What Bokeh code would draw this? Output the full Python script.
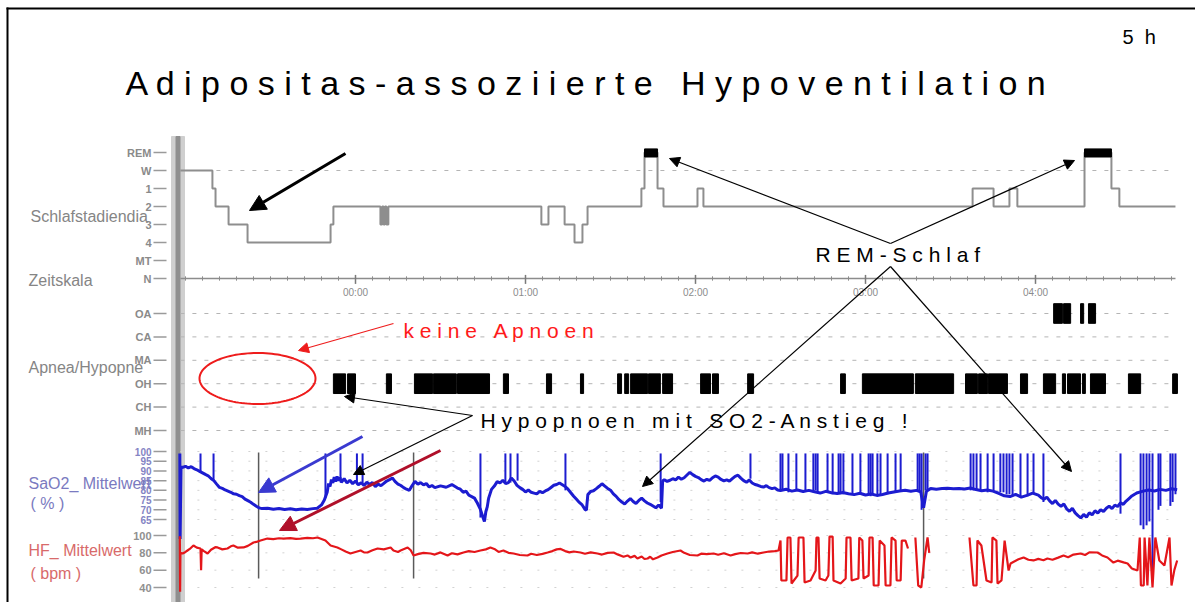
import numpy as np
from bokeh.plotting import figure
from bokeh.models import Range1d, Arrow, NormalHead
from bokeh.core.properties import value
from bokeh.embed import file_html
from bokeh.resources import INLINE

NaN = float("nan")

# ---------------- data (time in minutes relative to 00:00) ----------------
hyp_levels = ["REM", "W", "1", "2", "3", "4", "MT", "N"]
hyp_t = [-61.8, -50.5, -49.4, -44.8, -38.1, -8.8, -7.8, 8.8, 9.4, 9.9, 10.4, 10.9, 11.6,
         65.6, 68.1, 73.8, 77.3, 80.1, 81.9, 100.9, 102.0, 106.6, 108.7, 120.7, 122.8,
         217.8, 225.2, 230.8, 233.6, 257.3, 266.8, 269.6, 289.4]
hyp_stage = ["W", "1", "2", "3", "4", "3", "2", "3", "2", "3", "2", "3", "2",
             "3", "2", "3", "4", "3", "2", "1", "REM", "1", "2", "1", "2",
             "1", "2", "1", "2", "REM", "1", "2", "2"]

apnea_levels = ["OA", "CA", "MA", "OH", "CH", "MH"]
apnea_type = ["OH"] * 31 + ["OA"] * 4
apnea_start = [-7.8, -2.8, 10.9, 20.8, 27.5, 36.0, 52.2, 67.4, 79.4, 92.5, 95.0, 97.1, 103.4,
               108.4, 121.8, 126.0, 138.4, 171.2, 178.9, 197.6, 215.3, 219.9, 223.4, 234.7,
               242.8, 249.5, 251.3, 256.6, 259.4, 272.8, 288.4,
               246.4, 249.9, 255.9, 258.7]
apnea_end = [-3.5, 0.0, 12.7, 27.2, 35.6, 47.3, 54.0, 69.2, 80.5, 93.9, 96.4, 103.1, 107.6,
             111.9, 125.3, 128.1, 140.5, 172.9, 196.9, 211.1, 219.5, 223.1, 230.1, 237.2,
             247.1, 250.6, 255.9, 257.6, 264.7, 277.1, 290.1,
             249.5, 252.4, 257.0, 261.2]

sao2_ticks = [100, 95, 90, 85, 80, 75, 70, 65]
sao2_t = [-62.0, -61.9, -61.6, -61.0, -60.0, -59.0, -58.0, -57.0, -56.0, -55.0, -54.0, -53.0, -52.0,
          -51.0, -50.0, -49.0, -48.0, -47.0, -46.0, -45.0, -44.0, -43.0, -42.0, -41.0, -40.0,
          -39.0, -38.0, -37.0, -36.0, -35.0, -34.0, -33.0, -31.0, -29.0, -27.0, -25.0, -23.0,
          -21.0, -19.0, -17.0, -15.0, -13.5, -12.0, -11.0, -10.0, -9.5, -9.0, -8.5, -8.0, -7.5,
          -7.0, -6.5, -6.0, -5.5, -5.0, -4.0, -3.0, -2.0, -1.0, 0.0, 1.0, 2.0, 3.0, 4.0, 5.0,
          6.0, 7.0, 8.0, 9.0, 10.0, 11.0, 12.0, 13.0, 14.0, 15.0, 16.0, 17.0, 18.0, 19.0, 20.0,
          21.0, 22.0, 23.0, 24.0, 25.0, 26.0, 27.0, 28.0, 30.0, 32.0, 34.0, 36.0, 37.0, 38.0,
          39.0, 40.0, 41.0, 42.0, 43.0, 44.0, 45.0, 45.5, 46.0, 46.5, 47.0, 48.0, 49.0, 50.0,
          51.0, 52.0, 53.0, 54.0, 55.0, 56.0, 57.0, 58.0, 59.0, 60.0, 61.0, 62.0, 63.0, 64.0,
          65.0, 66.0, 67.0, 68.0, 69.0, 70.0, 71.0, 72.0, 73.0, 74.0, 75.0, 76.0, 77.0, 78.0,
          79.0, 80.0, 81.0, 81.5, 82.0, 83.0, 84.0, 85.0, 86.0, 87.0, 88.0, 89.0, 90.0, 91.0,
          92.0, 93.0, 94.0, 95.0, 96.0, 97.0, 98.0, 99.0, 100.0, 101.0, 102.0, 103.0, 104.0,
          105.0, 106.0, 107.0, 108.0, 108.4, 109.0, 110.0, 111.0, 112.0, 113.0, 114.0, 115.0,
          116.0, 117.0, 118.0, 119.0, 120.0, 121.0, 122.0, 123.0, 124.0, 125.0, 126.0, 127.0,
          128.0, 129.0, 130.0, 131.0, 132.0, 133.0, 134.0, 135.0, 136.0, 137.0, 138.0, 139.0,
          140.0, 141.0, 142.0, 143.0, 144.0, 145.0, 146.0, 147.0, 148.0, 149.0, 150.0, 152.0,
          154.0, 156.0, 158.0, 160.0, 162.0, 164.0, 166.0, 168.0, 170.0, 172.0, 174.0, 176.0,
          178.0, 180.0, 182.0, 184.0, 186.0, 188.0, 190.0, 192.0, 194.0, 196.0, 198.0, 199.5,
          200.5, 201.5, 203.0, 205.0, 207.0, 209.0, 211.0, 213.0, 215.0, 217.0, 219.0, 221.0,
          223.0, 225.0, 227.0, 229.0, 231.0, 233.0, 235.0, 237.0, 239.0, 241.0, 242.0, 243.0,
          244.0, 245.0, 246.0, 247.0, 248.0, 249.0, 250.0, 251.0, 252.0, 253.0, 254.0, 255.0,
          256.0, 257.0, 258.0, 259.0, 260.0, 261.0, 262.0, 263.0, 264.0, 265.0, 266.0, 267.0,
          268.0, 269.0, 270.0, 271.0, 272.0, 273.0, 274.0, 275.0, 276.0, 278.0, 280.0, 282.0,
          284.0, 286.0, 288.0, 290.0]
sao2_v = [99.0, 55.0, 92.0, 91.8, 92.4, 91.5, 92.2, 91.2, 90.6, 89.8, 89.0, 88.2, 87.5,
          86.1, 85.0, 83.2, 81.5, 81.0, 80.2, 79.6, 79.0, 78.2, 78.0, 77.3, 76.8,
          75.5, 74.7, 73.9, 72.8, 71.8, 71.0, 70.6, 70.8, 70.3, 70.7, 70.2, 70.5,
          70.0, 70.4, 70.1, 70.6, 70.8, 72.5, 75.0, 79.0, 83.5, 82.0, 85.5, 83.8, 86.8,
          84.5, 87.2, 85.0, 86.6, 84.2, 86.0, 83.8, 85.2, 83.4, 84.8, 82.9, 83.9, 82.5, 84.2, 83.0,
          84.0, 81.9, 83.2, 82.4, 83.6, 84.8, 85.5, 86.4, 84.5, 83.2, 82.5, 81.4, 80.6, 80.0, 82.5,
          84.6, 83.2, 84.0, 82.8, 83.5, 81.7, 82.5, 81.4, 82.3, 81.6, 83.0, 81.2, 80.6, 79.0,
          79.6, 77.5, 76.8, 76.0, 73.5, 70.5, 66.0, 64.0, 69.0, 71.5, 76.0, 80.5, 82.2, 84.5,
          83.8, 85.2, 83.5, 84.0, 86.4, 84.8, 82.6, 81.4, 80.5, 79.2, 80.2, 79.0, 78.6, 78.2,
          79.5, 78.8, 79.7, 80.4, 81.5, 82.6, 83.0, 83.8, 82.9, 82.0, 80.6, 78.8, 77.0, 75.4,
          73.8, 72.5, 70.2, 69.8, 77.8, 79.4, 79.8, 80.9, 82.1, 83.4, 82.2, 81.0, 80.1, 78.2,
          76.9, 75.2, 74.0, 73.0, 74.5, 75.8, 74.3, 73.2, 74.8, 76.0, 74.6, 73.5, 72.8,
          71.9, 71.0, 72.5, 70.8, 84.8, 85.5, 84.6, 85.2, 86.0, 85.4, 86.8, 85.7,
          86.5, 87.9, 89.3, 88.1, 87.2, 86.6, 85.5, 84.8, 85.7, 85.1, 86.5, 87.4,
          86.8, 85.6, 84.9, 85.4, 84.7, 86.0, 87.2, 87.8, 86.3, 85.0, 84.2, 85.3,
          83.8, 83.0, 82.6, 82.0, 81.7, 82.4, 81.4, 80.9, 81.3, 80.2, 79.9, 80.6,
          79.6, 80.2, 79.4, 80.0, 79.3, 78.6, 79.5, 78.8, 78.4, 78.9, 78.3, 77.8,
          78.5, 77.6, 78.1, 77.4, 77.9, 78.6, 79.2, 79.7, 80.1, 79.5, 80.0, 79.2,
          71.0, 79.5, 81.0, 80.6, 80.9, 81.1, 80.8, 81.0, 80.7, 81.2, 80.4, 79.8,
          80.2, 79.6, 78.5, 77.2, 76.8, 77.9, 76.5, 77.4, 78.6, 77.5, 76.2, 75.4,
          76.5, 74.6, 73.2, 74.8, 72.9, 71.8, 73.0, 70.5, 69.2, 70.8, 68.4, 67.0,
          65.8, 67.6, 66.2, 68.5, 67.4, 69.5, 68.3, 70.0, 69.1, 70.8, 71.9, 70.6,
          72.4, 71.7, 73.6, 72.8, 74.5, 75.8, 77.1, 78.0, 78.8, 79.6, 80.2, 79.7,
          80.5, 80.0, 80.8, 80.3]

# short artefact spikes of the SaO2 channel (time, lower end, upper end in %)
sao2_spike_t = [-54.7, -50.1, -10.6, -5.3, 0.5, 2.5, 44.1, 52.9, 54.7, 57.2, 74.1, 107.7, 139.4,
                150.0, 150.7, 152.8, 155.6, 158.8, 161.6, 162.4, 163.1, 166.6, 168.4, 170.5,
                171.2, 172.2, 175.4, 178.2, 181.1, 181.8, 182.5, 184.2, 185.3, 187.8, 190.6,
                192.4, 198.4, 199.1, 199.8, 201.2, 201.9, 217.1, 218.1, 219.2, 220.6, 223.1,
                225.2, 227.6, 228.7, 229.8, 230.8, 231.9, 234.7, 237.2, 239.3, 242.8, 270.0,
                277.1, 278.1, 279.2, 280.2, 281.3, 283.4, 284.1, 287.6, 288.4, 289.4]
sao2_spike_lo = [89, 85, 76, 86, 83, 83, 66, 84, 84, 85, 80, 74, 86,
                 80, 80, 79, 80, 80, 79, 80, 79, 79, 78, 78,
                 78, 78, 78, 78, 78, 77, 78, 77, 78, 78, 79,
                 80, 80, 79, 70, 80, 80, 80, 80, 80, 80, 79,
                 80, 79, 79, 78, 78, 77, 77, 77, 78, 74, 68,
                 62, 60, 62, 64, 36, 70, 72, 72, 74, 78]
sao2_spike_hi = [99] * 67

hf_ticks = [100, 80, 60, 40]
hf_t = [-62.0, -61.9, -61.8, -61.0, -60.0, -59.3, -58.5, -57.2, -56.0, -54.7, -54.5, -54.3, -53.5,
        -52.2, -51.0, -49.5, -48.7, -47.0, -45.2, -44.0, -43.1, -41.5, -39.5, -38.0, -36.0,
        -34.6, -33.5, -31.1, -29.0, -27.0, -25.4, -23.0, -21.0, -19.4, -17.0, -15.0, -13.4,
        -12.0, -10.6, -8.8, -6.4, -5.0, -3.5, -1.8, 0.0, 1.8, 3.0, 4.2, 6.0, 7.8, 10.0, 12.4,
        13.4, 15.0, 15.9, 18.4, 19.5, 20.5, 22.0, 24.0, 26.5, 28.0, 30.0, 32.5, 34.0, 36.0,
        38.1, 40.0, 42.0, 44.1, 46.0, 47.6, 49.0, 50.5, 52.2, 54.0, 55.8, 58.0, 60.7, 62.0,
        64.0, 66.0, 67.8, 69.5, 71.0, 72.4, 74.0, 75.5, 77.0, 79.4, 81.0, 83.0, 85.4, 87.0,
        89.0, 91.1, 92.5, 94.6, 96.0, 97.1, 98.5, 99.5, 101.0, 102.0, 103.1, 104.0, 105.0,
        106.6, 108.0, 110.1, 112.0, 114.7, 116.0, 118.0, 120.7, 122.0, 124.0, 126.4, 128.0,
        130.0, 132.4, 134.0, 136.0, 138.4, 140.0, 142.0, 144.0, 146.0, 148.0, 149.3,
        150.0, 150.3, 152.1, 152.5, 153.5, 153.9, 156.0, 156.4, 158.1, 158.5, 160.6, 162.4,
        162.7, 163.4, 163.8, 165.9, 166.9, 167.3, 168.4, 168.7, 171.2, 173.0, 173.3, 174.7,
        175.1, 177.5, 177.8, 178.9, 179.3, 181.1, 181.4, 182.5, 182.9, 184.6, 185.0, 186.7,
        187.1, 188.8, 189.2, 190.6, 191.0, 192.4, 192.8, 194.1, 195.0, 195.5,
        197.6, 198.6, 199.7, 200.7, 201.9, 202.5, 203.0,
        216.7, 218.1, 219.2, 219.5, 220.9, 222.7, 224.5, 224.8, 226.2, 226.6, 228.0, 229.1,
        230.5, 231.2, 232.5, 234.0, 235.8, 237.5, 239.3, 241.0, 242.8, 244.2, 246.0, 248.0,
        249.9, 251.5, 253.4, 255.9, 257.5, 259.0, 261.9, 263.5, 265.4, 267.5, 269.0, 271.1,
        272.5, 274.0, 276.0, 276.8, 277.2, 278.2, 278.5, 279.5, 280.2, 281.3, 282.3, 283.7,
        285.5, 287.3, 288.0, 289.0, 290.0]
hf_v = [99.0, 35.0, 80.0, 79.2, 81.0, 82.7, 84.5, 88.5, 86.0, 85.0, 60.0, 84.0, 82.0,
        79.2, 83.5, 86.5, 86.2, 84.0, 85.0, 87.5, 88.5, 86.0, 86.2, 88.0, 91.9,
        93.0, 94.2, 96.5, 95.8, 96.8, 96.5, 97.0, 96.2, 96.5, 97.2, 96.8, 97.7,
        96.0, 94.2, 88.5, 86.2, 84.0, 81.5, 79.2, 81.0, 82.7, 80.5, 80.4, 83.0, 85.0, 84.0, 86.2,
        82.7, 81.0, 82.7, 86.2, 83.0, 76.9, 78.5, 80.0, 79.2, 78.0, 80.5, 76.9, 79.5, 78.2,
        80.4, 82.0, 81.0, 82.7, 84.0, 86.2, 84.5, 81.0, 82.7, 80.0, 79.2, 77.5, 76.9, 79.0,
        77.5, 78.8, 80.4, 82.0, 84.0, 84.5, 82.0, 80.5, 81.5, 80.4, 79.0, 80.5, 79.2, 78.0,
        80.0, 80.4, 78.2, 75.5, 77.0, 74.6, 76.5, 73.5, 75.8, 72.9, 73.5, 75.5, 72.5,
        74.6, 77.0, 79.2, 81.0, 82.7, 80.0, 77.5, 76.9, 79.0, 78.5, 79.2, 77.8,
        79.5, 76.9, 78.5, 79.8, 79.2, 80.5, 79.0, 80.4, 81.5, 82.0, 82.7,
        94.2, 48.1, 48.1, 97.7, 97.7, 44.6, 53.8, 97.7, 97.7, 45.8, 48.1, 59.6,
        97.7, 97.7, 50.4, 48.1, 53.8, 98.8, 98.8, 48.1, 44.6, 50.4, 97.7, 97.7,
        48.1, 50.4, 97.7, 94.2, 50.4, 53.8, 97.7, 97.7, 42.3, 42.3, 94.2, 88.5,
        42.3, 42.3, 97.7, 94.2, 48.1, 48.1, 94.2, 94.2, 85.0, NaN,
        97.7, 42.3, 40.0, 71.2, 97.7, 80.0, NaN,
        97.7, 42.3, 42.3, 94.2, 88.5, 48.1, 45.8, 97.7, 94.2, 44.6, 48.1, 94.2,
        59.6, 67.7, 70.0, 72.5, 74.6, 72.0, 71.2, 73.0, 71.5, 73.5, 72.0, 74.5,
        76.9, 75.0, 78.0, 79.2, 77.5, 80.5, 80.4, 77.0, 74.6, 68.8, 71.0, 69.0,
        67.7, 62.0, 59.6, 97.7, 42.3, 42.3, 97.7, 42.3, 97.7, 40.0, 97.7, 71.2,
        65.4, 97.7, 42.3, 60.0, 71.2]

artefact_t = [-34.2, 20.5, 200.5]
time_tick_labels = ["00:00", "01:00", "02:00", "03:00", "04:00"]

# ---------------- layout ----------------
W, H = 1195, 602
PX0, PY0 = 0, 0                     # page offset of the figure
PX1, PY1 = PX0 + W, PY0 + H
MID_PX = 355.0                      # page x of 00:00
PX_PER_MIN = 170.0 / 60.0


def lin_range(px_a, val_a, px_b, val_b):
    k = (val_b - val_a) / (px_b - px_a)
    return Range1d(start=val_a + (PY1 - px_a) * k, end=val_a + (PY0 - px_a) * k)


p = figure(width=W, height=H, x_range=Range1d(PX0, PX1), y_range=Range1d(PY1, PY0),
           output_backend="svg", toolbar_location=None, min_border=0,
           x_axis_type=None, y_axis_type=None)
p.outline_line_color = None
p.background_fill_color = "white"
p.extra_x_ranges = {"time": Range1d((PX0 - MID_PX) / PX_PER_MIN, (PX1 - MID_PX) / PX_PER_MIN)}
p.extra_y_ranges = {
    "hyp": lin_range(152, 0, 278, 7),
    "apn": lin_range(313, 0, 430, 5),
    "sao2": lin_range(451, 100, 519, 65),
    "hf": lin_range(535, 100, 587, 40),
}

FONT = value("Liberation Sans")
t_start, t_end = hyp_t[0], hyp_t[-1]

# frame of the slide
p.segment(x0=[6, 7], y0=[8, 7], x1=[PX1, 7], y1=[8, PY1], color="black", line_width=2)

# grey time cursor bar
p.quad(left=[171], right=[184], top=[136], bottom=[PY1], color="#cfcfcf")
p.quad(left=[175.5], right=[179.5], top=[136], bottom=[PY1], color="#8f8f8f")

# dashed guide rows
p.segment(x0=[t_start], x1=[t_end], y0=[1], y1=[1], x_range_name="time", y_range_name="hyp",
          color="#b4b4b4", line_width=1, line_dash="4 8")
n_apn = list(range(len(apnea_levels)))
p.segment(x0=[t_start] * len(n_apn), x1=[t_end] * len(n_apn), y0=n_apn, y1=n_apn,
          x_range_name="time", y_range_name="apn", color="#b4b4b4", line_width=1, line_dash="4 8")
p.segment(x0=[t_start] * len(sao2_ticks), x1=[t_end] * len(sao2_ticks), y0=sao2_ticks, y1=sao2_ticks,
          x_range_name="time", y_range_name="sao2", color="#d2d2d2", line_width=1, line_dash="2 15")
p.segment(x0=[t_start] * len(hf_ticks), x1=[t_end] * len(hf_ticks), y0=hf_ticks, y1=hf_ticks,
          x_range_name="time", y_range_name="hf", color="#d2d2d2", line_width=1, line_dash="2 15")

# time scale on the N row
N_ROW = hyp_levels.index("N")
p.segment(x0=[t_start], x1=[t_end], y0=[N_ROW], y1=[N_ROW], x_range_name="time",
          y_range_name="hyp", color="#8c8c8c", line_width=1.5)
minor = np.arange(-60, 290, 6)
p.segment(x0=minor, x1=minor, y0=[N_ROW - 0.12] * len(minor), y1=[N_ROW + 0.12] * len(minor),
          x_range_name="time", y_range_name="hyp", color="#8c8c8c", line_width=1)
major = np.arange(0, 60 * len(time_tick_labels), 60)
p.segment(x0=major, x1=major, y0=[N_ROW - 0.2] * len(major), y1=[N_ROW + 0.3] * len(major),
          x_range_name="time", y_range_name="hyp", color="#7a7a7a", line_width=1.5)
p.text(x=major, y=[N_ROW + 0.8] * len(major), text=time_tick_labels, x_range_name="time",
       y_range_name="hyp", text_font=FONT, text_font_size="10px", text_color="#8c8c8c",
       text_align="center", text_baseline="middle")

# hypnogram
hyp_idx = [hyp_levels.index(s) for s in hyp_stage]
p.step(x=hyp_t, y=hyp_idx, mode="after", x_range_name="time", y_range_name="hyp",
       color="#8e8e8e", line_width=2)
rem_l = [hyp_t[i] for i, s in enumerate(hyp_stage[:-1]) if s == "REM"]
rem_r = [hyp_t[i + 1] for i, s in enumerate(hyp_stage[:-1]) if s == "REM"]
p.quad(left=rem_l, right=rem_r, top=[-0.2] * len(rem_l), bottom=[0.25] * len(rem_l),
       x_range_name="time", y_range_name="hyp", color="black")

# apnea / hypopnea events
ev_row = [apnea_levels.index(a) for a in apnea_type]
p.quad(left=apnea_start, right=apnea_end,
       top=[r - 0.42 for r in ev_row], bottom=[r + 0.42 for r in ev_row],
       x_range_name="time", y_range_name="apn", color="black")

# artefact markers
p.segment(x0=artefact_t, x1=artefact_t, y0=[452] * len(artefact_t), y1=[578] * len(artefact_t),
          x_range_name="time", color="#5a5a5a", line_width=1.5)

# SaO2
p.segment(x0=sao2_spike_t, x1=sao2_spike_t, y0=sao2_spike_lo, y1=sao2_spike_hi,
          x_range_name="time", y_range_name="sao2", color="#1c1cd0", line_width=2)
p.line(sao2_t, sao2_v, x_range_name="time", y_range_name="sao2", color="#1c1cd0", line_width=3)

# heart rate
p.line(hf_t, hf_v, x_range_name="time", y_range_name="hf", color="#e4161a", line_width=2.2)


# left axis labels and ticks
def ticks(levels, rng, color, size="11px"):
    n = len(levels)
    ys = list(range(n)) if isinstance(levels[0], str) else levels
    p.segment(x0=[153] * n, x1=[166] * n, y0=ys, y1=ys, y_range_name=rng, color="#9a9a9a", line_width=1.5)
    p.text(x=[151] * n, y=ys, text=[str(v) for v in levels], y_range_name=rng, text_font=FONT,
           text_font_size=size, text_color=color, text_align="right", text_baseline="middle",
           text_font_style="bold")


ticks(hyp_levels, "hyp", "#8a8a8a")
ticks(apnea_levels, "apn", "#8a8a8a")
ticks(sao2_ticks, "sao2", "#8484c4", "10px")
ticks(hf_ticks, "hf", "#909090")

p.text(x=[30, 28, 28, 28, 30, 28, 30], y=[216, 280, 367, 483, 503, 550, 573],
       text=["Schlafstadiendia", "Zeitskala", "Apnea/Hypopne", "SaO2_ Mittelwert", "( % )",
             "HF_ Mittelwert", "( bpm )"],
       text_font=FONT, text_font_size="16px",
       text_color=["#858585", "#858585", "#858585", "#7a7ac0", "#7a7ac0", "#d86a6a", "#d86a6a"],
       text_align="left", text_baseline="middle")


def spaced(s):
    # letter-spaced slide text; word gaps widened with no-break spaces
    return " \u00a0 ".join(" ".join(w) for w in s.split(" "))


# titles / annotations
p.text(x=[125], y=[82], text=[spaced("Adipositas-assoziierte Hypoventilation")], text_font=FONT,
       text_font_size="34px", text_color="black", text_align="left", text_baseline="middle")
p.text(x=[1122], y=[36], text=["5 \u00a0h"], text_font=FONT, text_font_size="20px",
       text_color="black", text_align="left", text_baseline="middle")
p.text(x=[815], y=[254], text=[spaced("REM-Schlaf")], text_font=FONT, text_font_size="21px",
       text_color="black", text_align="left", text_baseline="middle")
p.text(x=[403], y=[330], text=[spaced("keine Apnoen")], text_font=FONT, text_font_size="21px",
       text_color="#ff1a1a", text_align="left", text_baseline="middle")
p.text(x=[480], y=[420], text=[spaced("Hypopnoen mit SO2-Anstieg !")], text_font=FONT,
       text_font_size="21px", text_color="black", text_align="left", text_baseline="middle")

# red ellipse
th = np.linspace(0, 2 * np.pi, 120)
p.line(257 + 58 * np.cos(th), 378 + 25.5 * np.sin(th), color="#ee1c1c", line_width=2)


def arrow(x0, y0, x1, y1, color="black", lw=1.2, size=10):
    p.add_layout(Arrow(x_start=x0, y_start=y0, x_end=x1, y_end=y1, line_color=color, line_width=lw,
                       end=NormalHead(size=size, fill_color=color, line_color=color, line_width=1)))


arrow(345, 153, 249, 210, "black", 3, 16)
arrow(362, 436, 258, 492, "#3a3ad0", 3, 16)
arrow(440, 450, 279, 530, "#b0102a", 3, 16)
arrow(890, 243, 669, 158)
arrow(890, 243, 1074, 160)
arrow(890, 266, 642, 486)
arrow(890, 266, 1071, 471)
arrow(393, 323, 298, 350, "#ee1c1c", 1.2, 10)
arrow(472, 415, 344, 396)
arrow(472, 415, 353, 474)

open("out.html", "w").write(file_html(p, INLINE))
